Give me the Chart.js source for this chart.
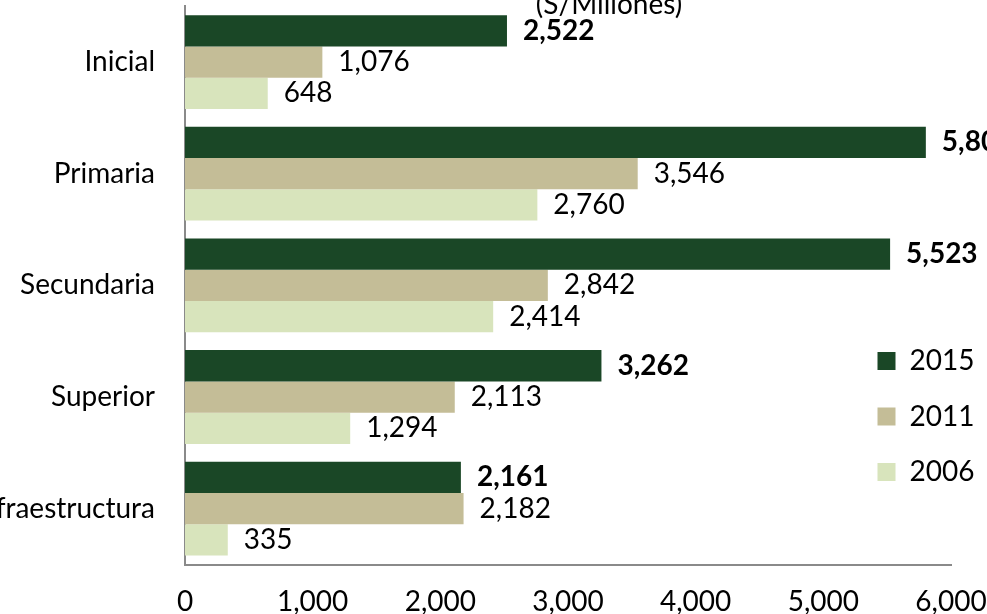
<!DOCTYPE html>
<html>
<head>
<meta charset="utf-8">
<script src="https://cdn.jsdelivr.net/npm/chart.js@4/dist/chart.umd.min.js"></script>
<style>
  html, body { margin: 0; padding: 0; width: 987px; height: 614px; overflow: hidden; background: #fff; }
  #c { position: absolute; left: -35px; top: 0; }
</style>
</head>
<body>
<canvas id="c" width="1288" height="666"></canvas>
<script>
// ---- data ----
const categories = ['Inicial', 'Primaria', 'Secundaria', 'Superior', 'Infraestructura'];
const seriesNames = ['2015', '2011', '2006'];
const values2015 = [2522, 5803, 5523, 3262, 2161];
const values2011 = [1076, 3546, 2842, 2113, 2182];
const values2006 = [648, 2760, 2414, 1294, 335];
const xTicks = [0, 1000, 2000, 3000, 4000, 5000, 6000];
const titleText = '(S/Millones)';

// ---- styles ----
const colors = ['#1A4726', '#C4BD97', '#D8E4BC'];
const FONT = 'Lato';
const fmt = v => v.toLocaleString('en-US');

const valueLabels = {
  id: 'valueLabels',
  afterDatasetsDraw(chart) {
    const ctx = chart.ctx;
    chart.data.datasets.forEach((ds, i) => {
      const meta = chart.getDatasetMeta(i);
      meta.data.forEach((bar, j) => {
        ctx.save();
        ctx.font = (i === 0 ? 'bold ' : '') + '28px ' + FONT;
        ctx.fillStyle = '#000';
        ctx.textAlign = 'left';
        ctx.textBaseline = 'middle';
        ctx.fillText(fmt(ds.data[j]), bar.x + 16, bar.y);
        ctx.restore();
      });
    });
  }
};

const legendPlace = {
  id: 'legendPlace',
  afterLayout(chart) {
    const lg = chart.legend;
    if (!lg) return;
    lg.left = 885; lg.top = 319.5;
    lg.width = 250; lg.height = 320;
    lg.right = lg.left + lg.width; lg.bottom = lg.top + lg.height;
  }
};

const datasets = [values2015, values2011, values2006].map((vals, i) => ({
  label: seriesNames[i],
  data: vals,
  backgroundColor: colors[i],
  borderWidth: 0,
  xAxisID: 'x',
  yAxisID: 'y',
  categoryPercentage: 0.84,
  barPercentage: 1.0
}));

new Chart(document.getElementById('c'), {
  type: 'bar',
  data: { labels: categories, datasets },
  options: {
    indexAxis: 'y',
    responsive: false,
    animation: false,
    devicePixelRatio: 1,
    layout: { padding: { left: 0, right: 0, top: 0, bottom: 25.9 } },
    scales: {
      y: {
        type: 'category',
        position: 'left',
        grid: { display: false, drawTicks: false },
        border: { display: true, color: '#8a8a8a', width: 2 },
        ticks: { color: '#000', padding: 30, font: { family: FONT, size: 28 } },
        afterFit(s) { s.width = 220; s.paddingTop = 0; s.paddingBottom = 0; }
      },
      x: {
        type: 'linear',
        position: 'bottom',
        min: 0, max: 6000,
        afterBuildTicks(s) { s.ticks = xTicks.map(v => ({ value: v })); },
        grid: { display: false, drawTicks: false },
        border: { display: true, color: '#8a8a8a', width: 2 },
        ticks: { color: '#000', padding: 21, font: { family: FONT, size: 28 }, callback: v => fmt(v) },
        afterFit(s) { s.paddingLeft = 0; s.paddingRight = 0; }
      },
      pad: {
        type: 'linear',
        axis: 'y',
        position: 'right',
        display: false,
        afterFit(s) { s.width = 302; s.paddingTop = 0; s.paddingBottom = 0; }
      }
    },
    plugins: {
      title: {
        display: true,
        text: titleText,
        color: '#000',
        font: { family: FONT, size: 28, weight: 'normal' },
        padding: { top: -11.8, bottom: -15.6 }
      },
      legend: {
        display: true,
        position: 'chartArea',
        align: 'start',
        labels: {
          color: '#000',
          boxWidth: 18,
          boxHeight: 18,
          padding: 27.5,
          font: { family: FONT, size: 28 }
        }
      },
      tooltip: { enabled: false }
    }
  },
  plugins: [valueLabels, legendPlace]
});
</script>
</body>
</html>
